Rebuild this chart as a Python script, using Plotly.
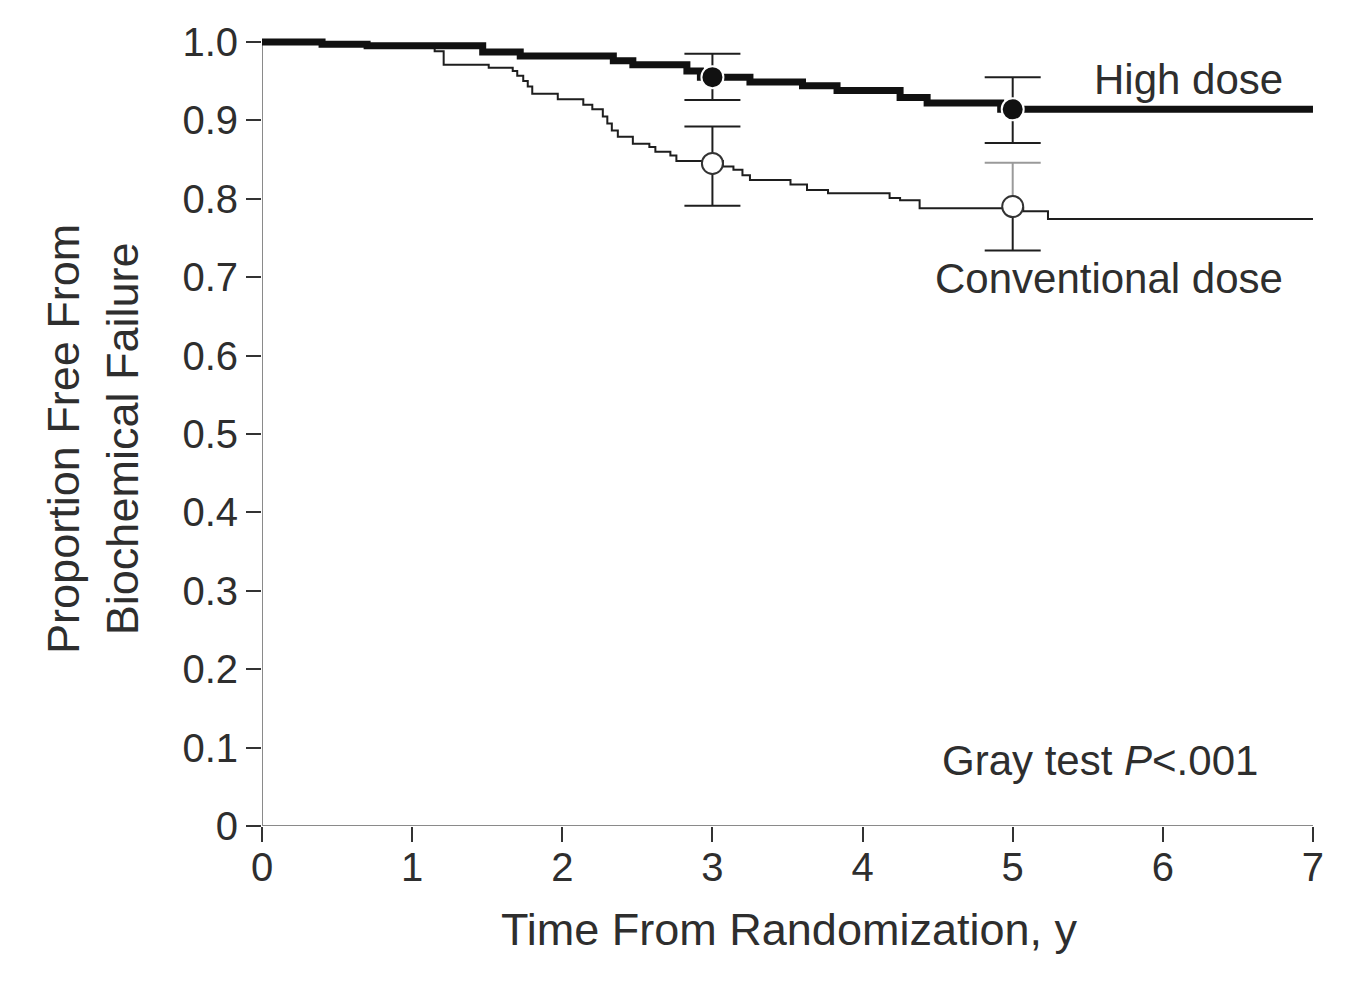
import plotly.graph_objects as go

# ---------------- data ----------------
high_t = [0, 0.40, 0.70, 1.47, 1.72, 2.34, 2.47, 2.83, 2.92, 3.25, 3.60, 3.83, 4.25, 4.43, 4.92, 7.0]
high_s = [1.000, 0.997, 0.995, 0.987, 0.982, 0.976, 0.971, 0.963, 0.955, 0.949, 0.944, 0.938, 0.929, 0.922, 0.914, 0.914]

conv_t = [0, 0.40, 0.70, 1.15, 1.21, 1.51, 1.67, 1.70, 1.74, 1.77, 1.80, 1.97, 2.14, 2.20, 2.27,
          2.30, 2.33, 2.37, 2.47, 2.58, 2.62, 2.72, 2.76, 3.07, 3.14, 3.20, 3.25, 3.52, 3.63, 3.77,
          4.18, 4.25, 4.38, 5.07, 5.235, 7.0]
conv_s = [1.000, 0.997, 0.994, 0.988, 0.971, 0.967, 0.963, 0.957, 0.950, 0.943, 0.934, 0.927, 0.920, 0.914, 0.905,
          0.896, 0.887, 0.879, 0.870, 0.866, 0.860, 0.855, 0.848, 0.841, 0.837, 0.830, 0.824, 0.818, 0.811, 0.807,
          0.801, 0.798, 0.788, 0.784, 0.774, 0.774]

ci_times = [3, 5]
high_est = [0.955, 0.914]
high_lo = [0.926, 0.871]
high_hi = [0.985, 0.955]
conv_est = [0.845, 0.790]
conv_lo = [0.791, 0.734]
conv_hi = [0.892, 0.846]

x_tickvals = [0, 1, 2, 3, 4, 5, 6, 7]
x_ticktext = ["0", "1", "2", "3", "4", "5", "6", "7"]
y_tickvals = [0, 0.1, 0.2, 0.3, 0.4, 0.5, 0.6, 0.7, 0.8, 0.9, 1.0]
y_ticktext = ["0", "0.1", "0.2", "0.3", "0.4", "0.5", "0.6", "0.7", "0.8", "0.9", "1.0"]

# ---------------- styles ----------------
FONT = "Liberation Sans, Arial, Helvetica, sans-serif"
TXT = "#2e2e2e"
DARK = "#1e1e1e"
W, H = 1371, 991
ML, MR, MT, MB = 254, 63, 17, 173
PX_PER_YR = 150.14
PX_PER_UNIT = 792.0
pw = W - ML - MR
ph = H - MT - MB
x_max = pw / PX_PER_YR
y_max = ph / PX_PER_UNIT

fig = go.Figure()

# confidence interval bars (lower half, upper half) with caps
def add_ci(times, est, lo, hi, lower_colors, upper_colors):
    for i, t in enumerate(times):
        fig.add_trace(go.Scatter(x=[t, t], y=[lo[i], est[i]], mode="lines",
                                 line=dict(color=lower_colors[i], width=2),
                                 showlegend=False, hoverinfo="skip"))
        fig.add_trace(go.Scatter(x=[t, t], y=[est[i], hi[i]], mode="lines",
                                 line=dict(color=upper_colors[i], width=2),
                                 showlegend=False, hoverinfo="skip"))
        fig.add_trace(go.Scatter(x=[t, t], y=[lo[i], hi[i]], mode="markers",
                                 marker=dict(symbol="line-ew", size=40,
                                             line=dict(color=[lower_colors[i], upper_colors[i]], width=2)),
                                 showlegend=False, hoverinfo="skip", cliponaxis=False))

add_ci(ci_times, high_est, high_lo, high_hi, [DARK, DARK], [DARK, DARK])
add_ci(ci_times, conv_est, conv_lo, conv_hi, [DARK, DARK], [DARK, "#9a9a9a"])

# survival curves
fig.add_trace(go.Scatter(x=conv_t, y=conv_s, mode="lines", line=dict(color=DARK, width=2, shape="hv"),
                         name="Conventional dose", showlegend=False))
fig.add_trace(go.Scatter(x=high_t, y=high_s, mode="lines", line=dict(color="#111111", width=7, shape="hv"),
                         name="High dose", showlegend=False))

# point estimate markers
fig.add_trace(go.Scatter(x=ci_times, y=high_est, mode="markers",
                         marker=dict(symbol="circle", size=22, color="#111111", line=dict(color="white", width=2)),
                         showlegend=False, cliponaxis=False))
fig.add_trace(go.Scatter(x=ci_times, y=conv_est, mode="markers",
                         marker=dict(symbol="circle", size=21, color="white", line=dict(color="#333333", width=2)),
                         showlegend=False, cliponaxis=False))

# axis lines
fig.add_shape(type="line", xref="x", yref="y", x0=0, x1=7, y0=0, y1=0,
              line=dict(color="#8a8a8a", width=2), layer="below")
fig.add_shape(type="line", xref="x", yref="y", x0=0, x1=0, y0=0, y1=1.0,
              line=dict(color="#8a8a8a", width=2), layer="below")

# annotations
fig.add_annotation(x=6.814, y=0.952, xref="x", yref="y", text="High dose", showarrow=False,
                   xanchor="right", yanchor="middle", font=dict(family=FONT, size=42, color=TXT))
fig.add_annotation(x=6.814, y=0.698, xref="x", yref="y", text="Conventional dose", showarrow=False,
                   xanchor="right", yanchor="middle", font=dict(family=FONT, size=42, color=TXT))
fig.add_annotation(x=4.516, y=0.083, xref="x", yref="y", text="Gray test <i>P</i>&lt;.001", showarrow=False,
                   xanchor="left", yanchor="middle", font=dict(family=FONT, size=42, color=TXT))

# y-axis title (two lines), centred where the reference places it
fig.add_annotation(x=(85 - ML) / pw, y=(H - MB - 427) / ph, xref="paper", yref="paper",
                   text="Proportion Free From<br>Biochemical Failure", showarrow=False, textangle=-90,
                   xanchor="center", yanchor="middle",
                   font=dict(family=FONT, size=45, color=TXT))

fig.update_layout(
    width=W, height=H,
    margin=dict(l=ML, r=MR, t=MT, b=MB, pad=0),
    paper_bgcolor="white", plot_bgcolor="white",
    font=dict(family=FONT, color=TXT),
    xaxis=dict(range=[0, x_max], tickvals=x_tickvals, ticktext=x_ticktext,
               showgrid=False, zeroline=False, showline=False,
               ticks="outside", ticklen=15, tickwidth=2, tickcolor="#333333",
               ticklabelstandoff=-9,
               tickfont=dict(family=FONT, size=40, color=TXT),
               title=dict(text="Time From Randomization, y", font=dict(family=FONT, size=45, color=TXT), standoff=25)),
    yaxis=dict(range=[0, y_max], tickvals=y_tickvals, ticktext=y_ticktext,
               showgrid=False, zeroline=False, showline=False,
               ticks="outside", ticklen=15, tickwidth=2, tickcolor="#333333",
               tickfont=dict(family=FONT, size=40, color=TXT)),
)

fig.write_html("out.html")
